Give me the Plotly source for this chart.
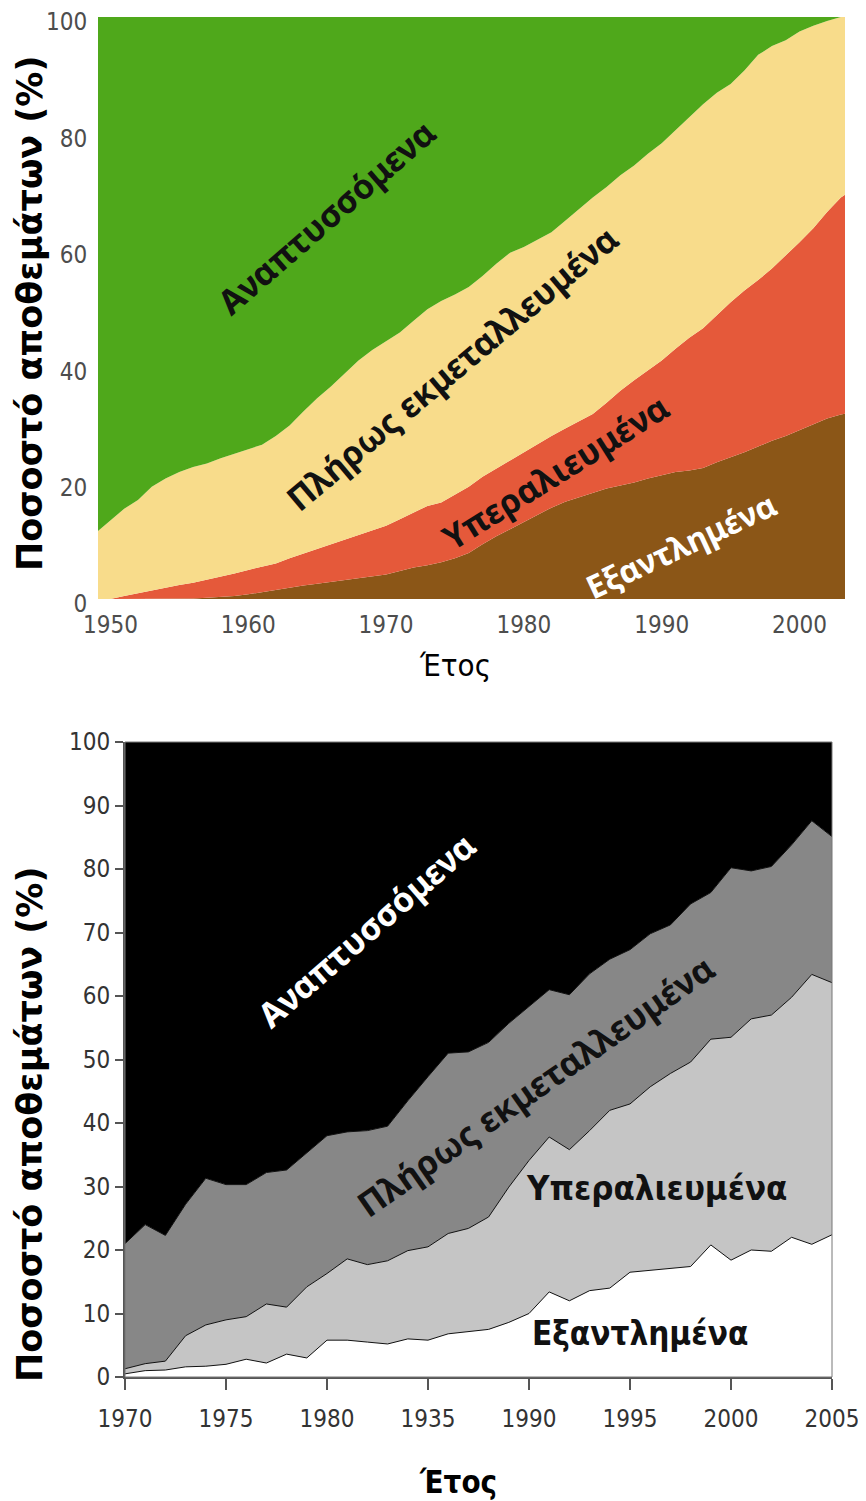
import plotly.graph_objects as go

# ---------------- DATA ----------------
# Top chart (1949-2004), cumulative upper boundary of each layer (%)
years_top = list(range(1949, 2005))
top_collapsed = [0, 0, 0, 0, 0, 0, 0, 0.1, 0.2, 0.3, 0.5, 0.8, 1.2, 1.6, 2.0, 2.3, 2.6, 2.9, 3.2, 3.5,
                 3.8, 4.2, 4.8, 5.4, 5.8, 6.3, 7.0, 7.9, 9.4, 10.8, 12.0, 13.2, 14.5, 15.7, 16.7, 17.5,
                 18.3, 19.0, 19.5, 20.0, 20.7, 21.3, 21.8, 22.1, 22.5, 23.5, 24.3, 25.2, 26.2, 27.2,
                 28.0, 29.0, 29.9, 31.0, 31.7, 32.2]
top_overexploited = [0, 0, 0.5, 1.0, 1.5, 1.9, 2.4, 2.8, 3.3, 3.8, 4.4, 5.0, 5.5, 6.1, 7.0, 7.8, 8.6,
                     9.4, 10.2, 10.9, 11.7, 12.6, 13.7, 14.9, 16.0, 16.6, 17.9, 19.3, 21.0, 22.4, 23.8,
                     25.3, 26.7, 28.0, 29.3, 30.6, 31.8, 33.7, 35.8, 37.6, 39.3, 41.0, 43.0, 44.9, 46.5,
                     48.8, 51.0, 53.0, 54.8, 56.8, 59.0, 61.3, 63.7, 66.5, 69.0, 70.5]
top_fully = [11.5, 13.5, 15.5, 17.0, 19.3, 20.7, 21.8, 22.7, 23.3, 24.2, 25.0, 25.7, 26.5, 28.0, 29.8,
             32.2, 34.5, 36.5, 38.8, 41.0, 42.8, 44.3, 45.8, 47.8, 49.8, 51.2, 52.3, 53.6, 55.5, 57.6,
             59.5, 60.5, 61.8, 63.0, 65.0, 67.0, 69.0, 70.8, 72.8, 74.5, 76.5, 78.3, 80.5, 82.8, 85.0,
             87.0, 88.5, 90.8, 93.5, 95.0, 96.0, 97.5, 98.5, 99.3, 100, 100]
top_developing = [100] * len(years_top)
top_xticks = [1950, 1960, 1970, 1980, 1990, 2000]
top_yticks = [0, 20, 40, 60, 80, 100]

# Bottom chart (1970-2005), cumulative upper boundary of each layer (%)
years_bot = list(range(1970, 2006))
bot_collapsed = [0.5, 1.0, 1.1, 1.6, 1.7, 2.0, 2.8, 2.2, 3.6, 3.0, 5.8, 5.8, 5.5, 5.2, 6.0, 5.8, 6.8, 7.1,
                 7.5, 8.6, 10.0, 13.4, 12.0, 13.6, 14.0, 16.5, 16.8, 17.2, 17.4, 20.8, 18.4, 20.0, 19.8,
                 22.0, 20.9, 22.4]
bot_overexploited = [1.3, 2.1, 2.5, 6.5, 8.2, 9.0, 9.5, 11.5, 11.0, 14.2, 16.3, 18.6, 17.7, 18.3, 19.9,
                     20.5, 22.6, 23.4, 25.2, 29.9, 34.1, 37.8, 35.8, 38.8, 42.0, 43.0, 45.7, 47.8, 49.6,
                     53.2, 53.5, 56.4, 57.0, 59.8, 63.4, 62.1]
bot_fully = [21.0, 24.0, 22.3, 27.2, 31.3, 30.3, 30.3, 32.2, 32.6, 35.3, 38.0, 38.6, 38.8, 39.5, 43.5,
             47.3, 51.0, 51.2, 52.7, 55.7, 58.3, 61.0, 60.2, 63.5, 65.8, 67.3, 69.8, 71.2, 74.5, 76.3,
             80.2, 79.7, 80.4, 83.8, 87.6, 85.1]
bot_developing = [100] * len(years_bot)
bot_xticks = [1970, 1975, 1980, 1985, 1990, 1995, 2000, 2005]
bot_xticktext = ["1970", "1975", "1980", "1935", "1990", "1995", "2000", "2005"]
bot_yticks = [0, 10, 20, 30, 40, 50, 60, 70, 80, 90, 100]

labels = ["Εξαντλημένα", "Υπεραλιευμένα", "Πλήρως εκμεταλλευμένα", "Αναπτυσσόμενα"]

# ---------------- STYLE ----------------
# the page adds an 8px body margin, so the figure is drawn 8px in from the top-left corner
OFF = 8
W, H = 866 - OFF, 1501 - OFF
top_colors = ["#8b5617", "#e5593a", "#f8dc8b", "#4fa81b"]
bot_colors = ["#ffffff", "#c5c5c5", "#878787", "#000000"]
NARROW = "Liberation Sans Narrow, DejaVu Sans Condensed, Arial Narrow, sans-serif"
COND = "DejaVu Sans Condensed, DejaVu Sans, sans-serif"


def px(x):
    return (x - OFF) / W


def py(y):
    return 1 - (y - OFF) / H


fig = go.Figure()

top_series = [top_collapsed, top_overexploited, top_fully, top_developing]
for i, (name, ys) in enumerate(zip(labels, top_series)):
    fig.add_trace(go.Scatter(
        x=years_top, y=ys, name=name, mode="lines",
        line=dict(width=0, color=top_colors[i]),
        fill="tozeroy" if i == 0 else "tonexty",
        fillcolor=top_colors[i],
        xaxis="x", yaxis="y", showlegend=False, hoverinfo="skip",
    ))

bot_series = [bot_collapsed, bot_overexploited, bot_fully, bot_developing]
for i, (name, ys) in enumerate(zip(labels, bot_series)):
    fig.add_trace(go.Scatter(
        x=years_bot, y=ys, name=name, mode="lines",
        line=dict(width=1, color="#111111"),
        fill="tozeroy" if i == 0 else "tonexty",
        fillcolor=bot_colors[i],
        xaxis="x2", yaxis="y2", showlegend=False, hoverinfo="skip",
    ))

fig.update_layout(
    width=W, height=H,
    margin=dict(l=0, r=0, t=0, b=0, autoexpand=False),
    paper_bgcolor="white", plot_bgcolor="white",
    xaxis=dict(domain=[px(98), px(845)], anchor="y", range=[1949.1, 2003.3], automargin=False,
               tickvals=top_xticks, showgrid=False, zeroline=False, showline=False,
               ticks="outside", ticklen=4, tickcolor="rgba(0,0,0,0)", ticklabeloverflow="allow",
               tickfont=dict(family=NARROW, size=24, color="#4d4d4d")),
    yaxis=dict(domain=[py(599), py(17)], anchor="x", range=[0, 100], automargin=False,
               tickvals=top_yticks, showgrid=False, zeroline=False, showline=False,
               ticks="outside", ticklen=5, tickcolor="rgba(0,0,0,0)", ticklabeloverflow="allow",
               ticklabelshift=5,
               tickfont=dict(family=NARROW, size=24, color="#4d4d4d")),
    xaxis2=dict(domain=[px(125), px(832)], anchor="y2", range=[1970, 2005], automargin=False,
                tickvals=bot_xticks, ticktext=bot_xticktext,
                showgrid=False, zeroline=False, showline=True, linecolor="#555555", linewidth=2,
                ticks="outside", ticklen=11, tickwidth=2, tickcolor="#555555",
                ticklabelstandoff=8, ticklabeloverflow="allow",
                tickfont=dict(family=NARROW, size=24, color="#333333")),
    yaxis2=dict(domain=[py(1377), py(742)], anchor="x2", range=[0, 100], automargin=False,
                tickvals=bot_yticks, showgrid=False, zeroline=False, showline=True,
                linecolor="#555555", linewidth=2, ticklabeloverflow="allow",
                ticks="outside", ticklen=8, tickwidth=2, tickcolor="#555555",
                tickfont=dict(family=NARROW, size=24, color="#333333")),
)

# thin frame on the bottom chart (top/right)
fig.add_shape(type="rect", xref="paper", yref="paper",
              x0=px(125), x1=px(832), y0=py(1377), y1=py(742),
              line=dict(color="#777777", width=1), layer="above")

ann_font = "Noto Sans, DejaVu Sans, sans-serif"


def add_label(text, x, y, angle, size, color, family=ann_font, bold=True):
    fig.add_annotation(
        xref="paper", yref="paper", x=px(x), y=py(y), text=text, showarrow=False,
        textangle=angle, xanchor="center", yanchor="middle",
        font=dict(family=family, size=size, color=color, weight="bold" if bold else "normal"),
    )


# top chart labels
add_label(labels[3], 326, 217, -41, 34, "#111111")
add_label(labels[2], 452, 368, -40, 34, "#111111")
add_label(labels[1], 555, 472, -32, 34, "#111111")
add_label(labels[0], 680, 545, -25, 32, "#ffffff")

# bottom chart labels
add_label(labels[3], 366, 930, -41, 34, "#ffffff")
add_label(labels[2], 535, 1085, -35, 34.5, "#111111")
add_label(labels[1], 656, 1188, 0, 34.5, "#111111", family=COND)
add_label(labels[0], 640, 1333, 0, 33, "#111111", family=COND)

# axis titles
ytitle = "Ποσοστό αποθεμάτων (%)"
add_label(ytitle, 30, 314, -90, 35, "#000000", family="DejaVu Sans, sans-serif")
add_label(ytitle, 30, 1125, -90, 35, "#000000", family="DejaVu Sans, sans-serif")
add_label("Έτος", 455, 665, 0, 31, "#000000", family=COND, bold=False)
add_label("Έτος", 458, 1482, 0, 31, "#000000", family=COND, bold=True)

fig.write_html("out.html")
